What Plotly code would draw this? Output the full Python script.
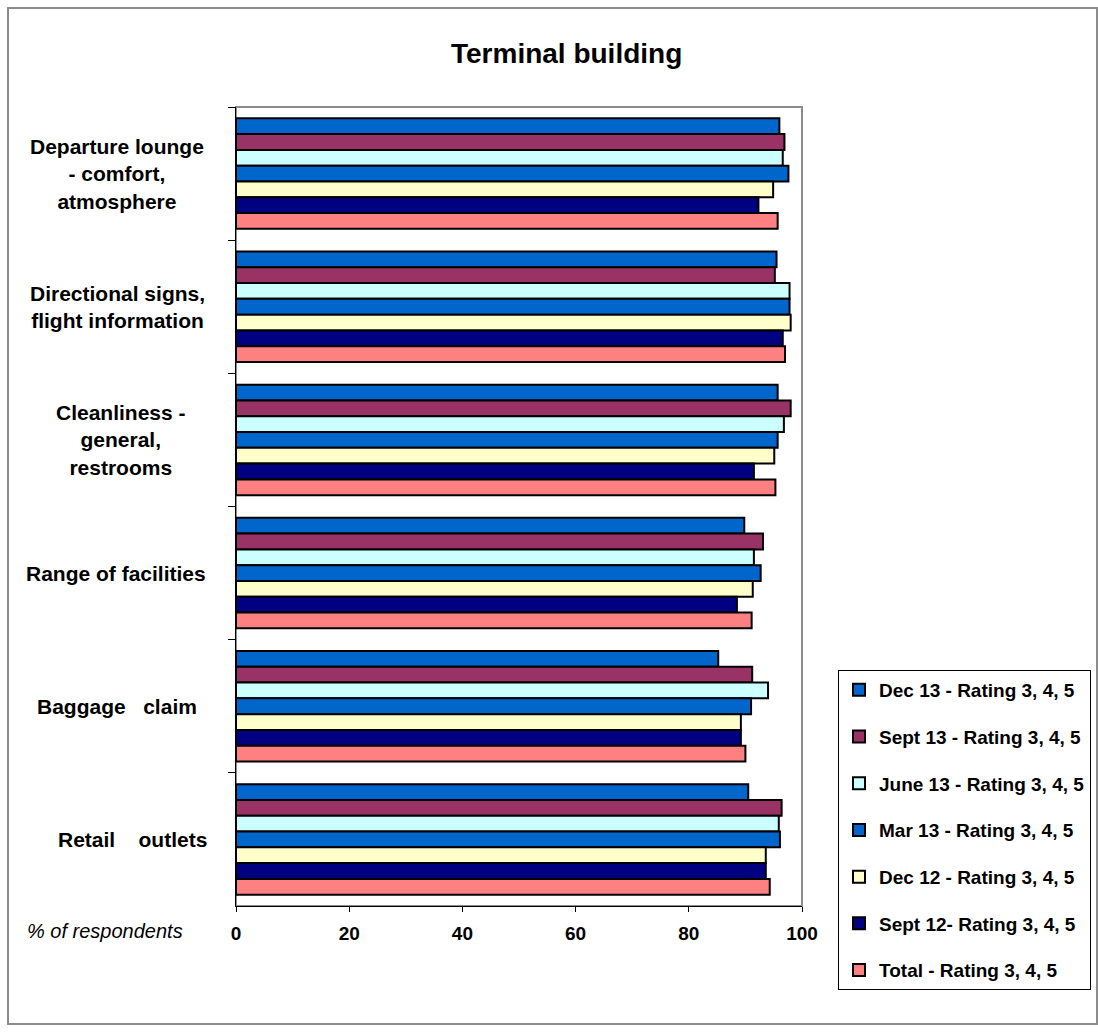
import plotly.graph_objects as go

categories = [
    "Departure lounge<br>- comfort,<br>atmosphere",
    "Directional signs,<br>flight information",
    "Cleanliness -<br>general,<br>restrooms",
    "Range of facilities",
    "Baggage\u00a0\u00a0\u00a0claim",
    "Retail\u00a0\u00a0\u00a0\u00a0outlets",
]

series_names = [
    "Dec 13 - Rating 3, 4, 5",
    "Sept 13 - Rating 3, 4, 5",
    "June 13 - Rating 3, 4, 5",
    "Mar 13 - Rating 3, 4, 5",
    "Dec 12 - Rating 3, 4, 5",
    "Sept 12- Rating 3, 4, 5",
    "Total - Rating 3, 4, 5",
]

dec13 = [96.0, 95.5, 95.7, 89.8, 85.2, 90.5]
sept13 = [96.9, 95.2, 98.0, 93.1, 91.2, 96.4]
june13 = [96.6, 97.8, 96.8, 91.5, 94.0, 95.9]
mar13 = [97.6, 97.8, 95.7, 92.7, 91.0, 96.1]
dec12 = [94.9, 98.0, 95.1, 91.3, 89.2, 93.6]
sept12 = [92.3, 96.6, 91.5, 88.5, 89.2, 93.6]
total = [95.7, 97.0, 95.3, 91.1, 90.0, 94.3]

series_values = [dec13, sept13, june13, mar13, dec12, sept12, total]
colors = ["#0066CC", "#993366", "#CCFFFF", "#0066CC", "#FFFFCC", "#000080", "#FF8080"]

x_ticks = [0, 20, 40, 60, 80, 100]

W, H = 1098, 1032
L, R, T, B = 236, 802, 107, 906
FONT = "Liberation Sans, Arial"


def px(xp):
    return (xp - L) / (R - L)


def py(yp):
    return (B - yp) / (B - T)


fig = go.Figure()
for i, (name, vals, col) in enumerate(zip(series_names, series_values, colors)):
    fig.add_trace(go.Bar(
        y=categories, x=vals, name=name, orientation="h",
        marker=dict(color=col, line=dict(color="black", width=2)),
        legendgroup="g%d" % i,
    ))

label_x = [117, 117, 121, 116, 117, 132]
annotations = []
for cat, lx in zip(categories, label_x):
    annotations.append(dict(
        x=px(lx), xref="paper", y=cat, yref="y", text="<b>%s</b>" % cat,
        showarrow=False, xanchor="center", yanchor="middle", align="center",
        font=dict(family=FONT, size=21, color="black"),
    ))
annotations.append(dict(
    x=px(566), xref="paper", y=py(54), yref="paper", text="<b>Terminal building</b>",
    showarrow=False, xanchor="center", yanchor="middle",
    font=dict(family=FONT, size=28, color="black"),
))
annotations.append(dict(
    x=px(105), xref="paper", y=py(931), yref="paper", text="<i>% of respondents</i>",
    showarrow=False, xanchor="center", yanchor="middle",
    font=dict(family=FONT, size=20, color="black"),
))

shapes = [
    dict(type="rect", xref="paper", yref="paper", x0=0, x1=1, y0=0, y1=1,
         line=dict(color="#8c8c8c", width=2), fillcolor="rgba(0,0,0,0)", layer="below"),
    dict(type="rect", xref="paper", yref="paper", x0=px(8), x1=px(1097), y0=py(1024), y1=py(8),
         line=dict(color="#8c8c8c", width=2), fillcolor="rgba(0,0,0,0)", layer="below"),
]

fig.update_layout(
    width=W, height=H,
    margin=dict(l=L, r=W - R, t=T, b=H - B, pad=0, autoexpand=False),
    paper_bgcolor="white", plot_bgcolor="white",
    barmode="group", bargap=0.17, bargroupgap=0,
    font=dict(family=FONT, color="black"),
    showlegend=True,
    legend=dict(
        xref="container", yref="container",
        x=838 / W, y=1 - 670 / H, xanchor="left", yanchor="top",
        bordercolor="black", borderwidth=1, bgcolor="white",
        font=dict(family=FONT, size=19, color="black", weight="bold"),
        tracegroupgap=19, traceorder="grouped",
    ),
    annotations=annotations,
    shapes=shapes,
)
fig.update_xaxes(
    range=[0, 100], tickvals=x_ticks, ticktext=["<b>%d</b>" % v for v in x_ticks],
    tickfont=dict(size=19, color="black"), ticks="outside", ticklen=5, tickcolor="black",
    showline=True, linecolor="black", linewidth=1, showgrid=False, zeroline=False,
    ticklabelstandoff=5,
)
fig.update_yaxes(
    autorange="reversed", showticklabels=False, ticks="outside", ticklen=7,
    tickcolor="black", tickson="boundaries", showline=True, linecolor="black",
    linewidth=1, showgrid=False,
)

fig.write_html("out.html")
